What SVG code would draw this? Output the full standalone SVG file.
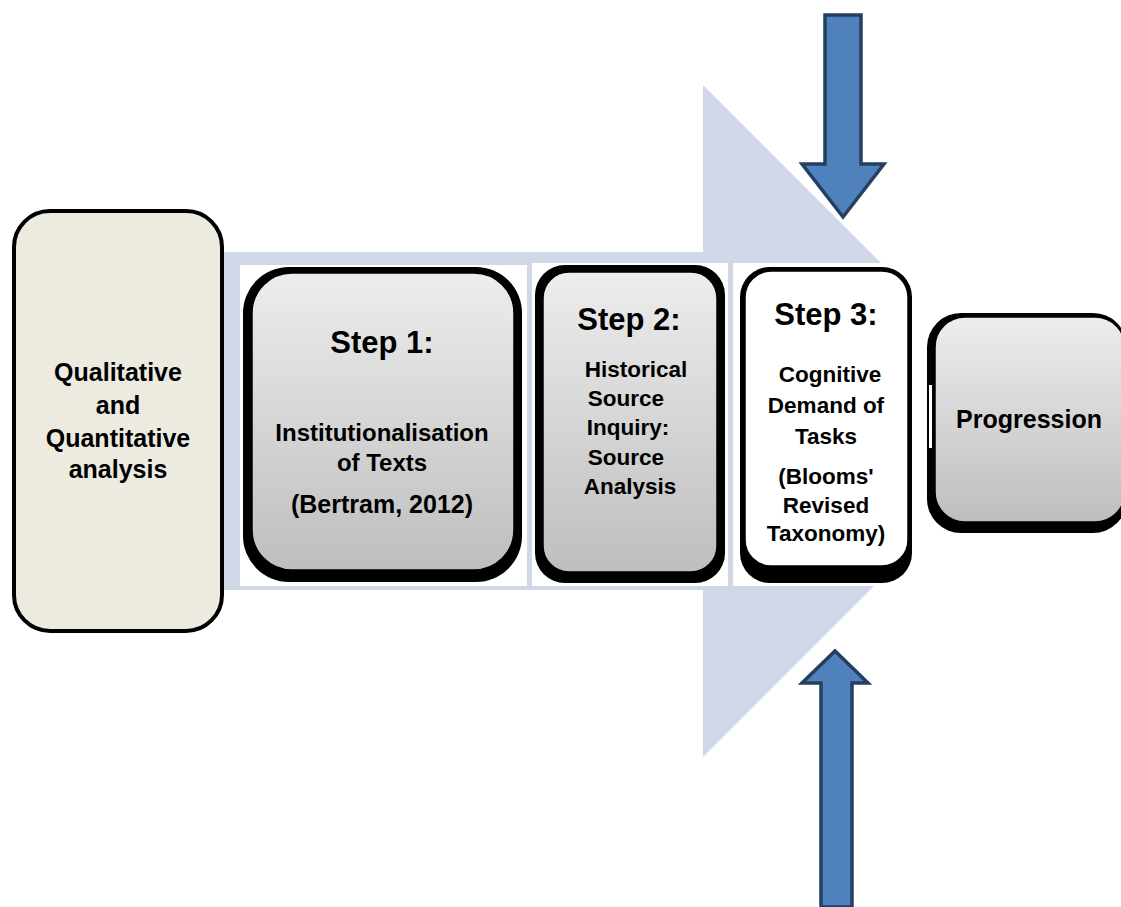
<svg xmlns="http://www.w3.org/2000/svg" width="1121" height="907" viewBox="0 0 1121 907">
<defs>
<linearGradient id="g" x1="0" y1="0" x2="0" y2="1">
<stop offset="0" stop-color="#EDEDED"/>
<stop offset="1" stop-color="#BEBEBE"/>
</linearGradient>
<style>
text{font-family:"Liberation Sans",Arial,sans-serif;font-weight:bold;fill:#000;text-anchor:middle}
.t{font-size:22.5px}
.t1{font-size:24px}
.h{font-size:31px}
.b{font-size:25px}
.sh{fill:#000}
.box{fill:url(#g);stroke:#000;stroke-width:1.5}
.frame{fill:#fff}
.blue{fill:#4F81BD;stroke:#243F60;stroke-width:3.5;stroke-linejoin:miter}
</style>
</defs>
<rect width="1121" height="907" fill="#fff"/>
<g id="big-arrow">
<polygon points="222,252 703,252 703,85 1039,421 703,757 703,590 222,590" fill="#D0D8E8"/>
</g>
<g id="frames">
<rect class="frame" x="240" y="265" width="287" height="321"/>
<rect class="frame" x="532" y="263" width="196" height="323"/>
<rect class="frame" x="733" y="263" width="178" height="323"/>
<rect class="frame" x="911" y="280" width="210" height="290"/>
</g>
<g id="qual">
<rect x="14" y="211" width="208" height="420" rx="36" fill="#EDEBE0" stroke="#000" stroke-width="4"/>
<text class="b" x="118" y="381">Qualitative</text>
<text class="b" x="118" y="414">and</text>
<text class="b" x="118" y="447">Quantitative</text>
<text class="b" x="118" y="478">analysis</text>
</g>
<g id="step1">
<rect class="sh" x="243" y="267" width="279" height="315" rx="46"/>
<rect class="box" x="252" y="273" width="262" height="297" rx="40"/>
<text class="h" x="382" y="353">Step 1:</text>
<text class="t1" x="382" y="441">Institutionalisation</text>
<text class="t1" x="382" y="471">of Texts</text>
<text class="t1" x="382" y="513" style="font-size:25px">(Bertram, 2012)</text>
</g>
<g id="step2">
<rect class="sh" x="535" y="265" width="190" height="318" rx="30"/>
<rect class="box" x="543" y="272" width="174" height="300" rx="26"/>
<text class="h" x="629" y="330">Step 2:</text>
<text class="t" x="636" y="377">Historical</text>
<text class="t" x="626" y="406">Source</text>
<text class="t" x="628" y="435">Inquiry:</text>
<text class="t" x="626" y="465">Source</text>
<text class="t" x="630" y="494">Analysis</text>
</g>
<g id="step3">
<rect class="sh" x="740" y="267" width="172" height="316" rx="30"/>
<rect x="745" y="271" width="163" height="295" rx="26" fill="#fff" stroke="#000" stroke-width="1.5"/>
<text class="h" x="826" y="325">Step 3:</text>
<text class="t" x="830" y="382">Cognitive</text>
<text class="t" x="826" y="413">Demand of</text>
<text class="t" x="826" y="444">Tasks</text>
<text class="t" x="826" y="484">(Blooms'</text>
<text class="t" x="826" y="513">Revised</text>
<text class="t" x="826" y="541">Taxonomy)</text>
</g>
<g id="progression">
<rect class="sh" x="927" y="313" width="200" height="220" rx="34"/>
<rect class="box" x="935" y="317" width="190" height="205" rx="30"/>
<rect x="929" y="385" width="3" height="63" fill="#fff"/>
<text class="b" x="1029" y="428">Progression</text>
</g>
<g id="connectors">
<polygon class="blue" points="825,15 861,15 861,164 884,164 843,217 802,164 825,164"/>
<polygon class="blue" points="821,907 852,907 852,683 868,683 835,651 802,683 821,683"/>
</g>
</svg>
